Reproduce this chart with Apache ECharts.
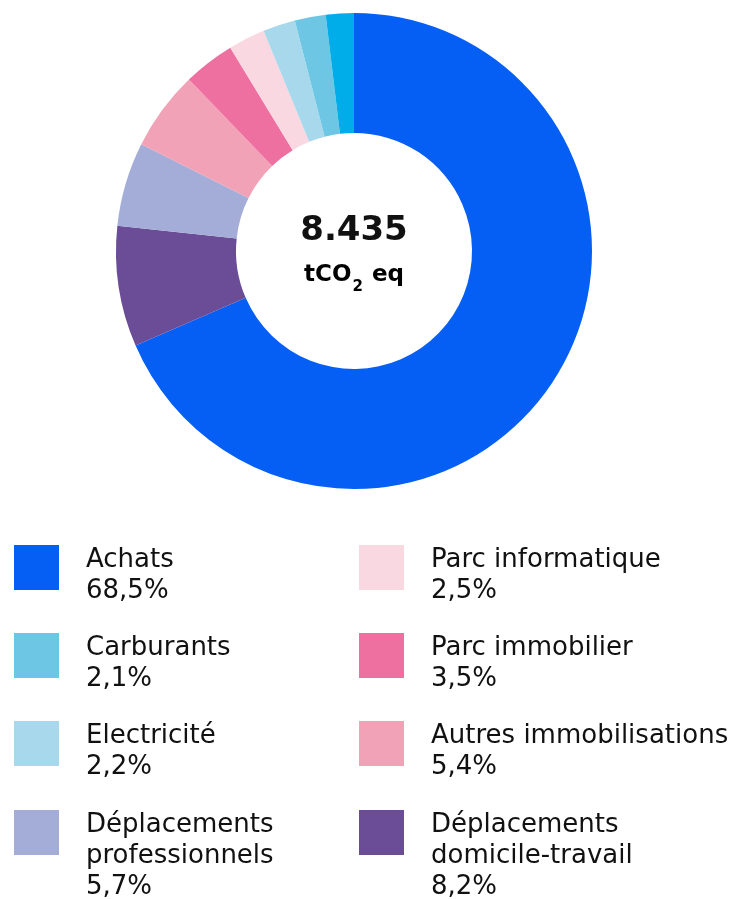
<!DOCTYPE html>
<html>
<head>
<meta charset="utf-8">
<script src="https://cdn.jsdelivr.net/npm/echarts@6/dist/echarts.min.js"></script>
<style>
    html, body { margin: 0; padding: 0; background: #fff; }
    #bilan-chart { width: 742px; height: 899px; }
</style>
</head>
<body>
<div id="bilan-chart"></div>
<script>
// postes d'emission, dans l'ordre du donut (sens horaire depuis midi)
var categories = ['Achats', 'Déplacements domicile-travail', 'Déplacements professionnels',
    'Autres immobilisations', 'Parc immobilier', 'Parc informatique', 'Electricité', 'Carburants', 'Autres'];
var shares = [68.5, 8.2, 5.7, 5.4, 3.5, 2.5, 2.2, 2.1, 1.9];
var total = '8.435';

// legende : deux colonnes
var legendLeftCol = ['Achats', 'Carburants', 'Electricité', 'Déplacements professionnels'];
var legendRightCol = ['Parc informatique', 'Parc immobilier', 'Autres immobilisations', 'Déplacements domicile-travail'];
var legendLabels = {
    'Déplacements professionnels': 'Déplacements\nprofessionnels',
    'Déplacements domicile-travail': 'Déplacements\ndomicile-travail'
};

var palette = ['#055ff5', '#6b4c96', '#a3add8', '#f2a2b6', '#ee70a0', '#f9d8e2', '#a7d8eb', '#6dc6e3', '#00ade8'];

var FONT = 'DejaVu Sans';
var LINE_H = 31;
var ICON = 45;

function pct(name) {
    var v = shares[categories.indexOf(name)];
    return v.toFixed(1).replace('.', ',') + '%';
}

function nbLines(name) {
    return (legendLabels[name] || name).split('\n').length + 1;
}

// une ligne vide en tete pour caler le texte sur le haut du carre
function legendText(name) {
    return '{p' + nbLines(name) + '| }\n' + (legendLabels[name] || name) + '\n' + pct(name);
}

var legends = [];
var rowTops = [545, 633, 721, 810];
var cols = [{left: 14, names: legendLeftCol}, {left: 359, names: legendRightCol}];
cols.forEach(function (col) {
    col.names.forEach(function (name, i) {
        var n = nbLines(name);
        legends.push({
            show: true,
            selectedMode: false,
            orient: 'vertical',
            left: col.left,
            top: rowTops[i] + Math.min(0, ICON - LINE_H * n),
            padding: 0,
            icon: 'rect',
            itemWidth: ICON,
            itemHeight: ICON,
            data: [name],
            formatter: legendText,
            textStyle: {
                fontFamily: FONT,
                fontSize: 26,
                lineHeight: LINE_H,
                color: '#111',
                padding: [0, 0, 0, 22],
                rich: {
                    p2: {fontSize: 1, lineHeight: LINE_H * 2 - ICON},
                    p3: {fontSize: 1, lineHeight: LINE_H * 3 - ICON}
                }
            }
        });
    });
});

var seriesData = categories.map(function (name, i) {
    return {name: name, value: shares[i]};
});

var option = {
    animation: false,
    color: palette,
    legend: legends,
    graphic: [
        {
            type: 'text',
            x: 354,
            y: 231,
            style: {
                text: total,
                fontFamily: FONT,
                fontWeight: 'bold',
                fontSize: 34,
                fill: '#111',
                align: 'center',
                verticalAlign: 'middle'
            }
        },
        {
            type: 'text',
            x: 354,
            y: 275,
            style: {
                text: '{a|tCO}{s|2}{a| eq}',
                align: 'center',
                verticalAlign: 'middle',
                rich: {
                    a: {fontFamily: FONT, fontWeight: 'bold', fontSize: 23, lineHeight: 23,
                        color: '#111', verticalAlign: 'top'},
                    s: {fontFamily: FONT, fontWeight: 'bold', fontSize: 15, lineHeight: 15,
                        color: '#111', verticalAlign: 'top', padding: [16, 1, 0, 1]}
                }
            }
        }
    ],
    series: [
        {
            name: 'Emissions',
            type: 'pie',
            center: [354, 251],
            radius: [118, 238],
            startAngle: 90,
            clockwise: true,
            avoidLabelOverlap: false,
            label: {show: false},
            labelLine: {show: false},
            emphasis: {scale: false},
            itemStyle: {borderWidth: 0},
            data: seriesData
        }
    ]
};

var bilanChart = echarts.init(document.getElementById('bilan-chart'));
bilanChart.setOption(option);
</script>
</body>
</html>
